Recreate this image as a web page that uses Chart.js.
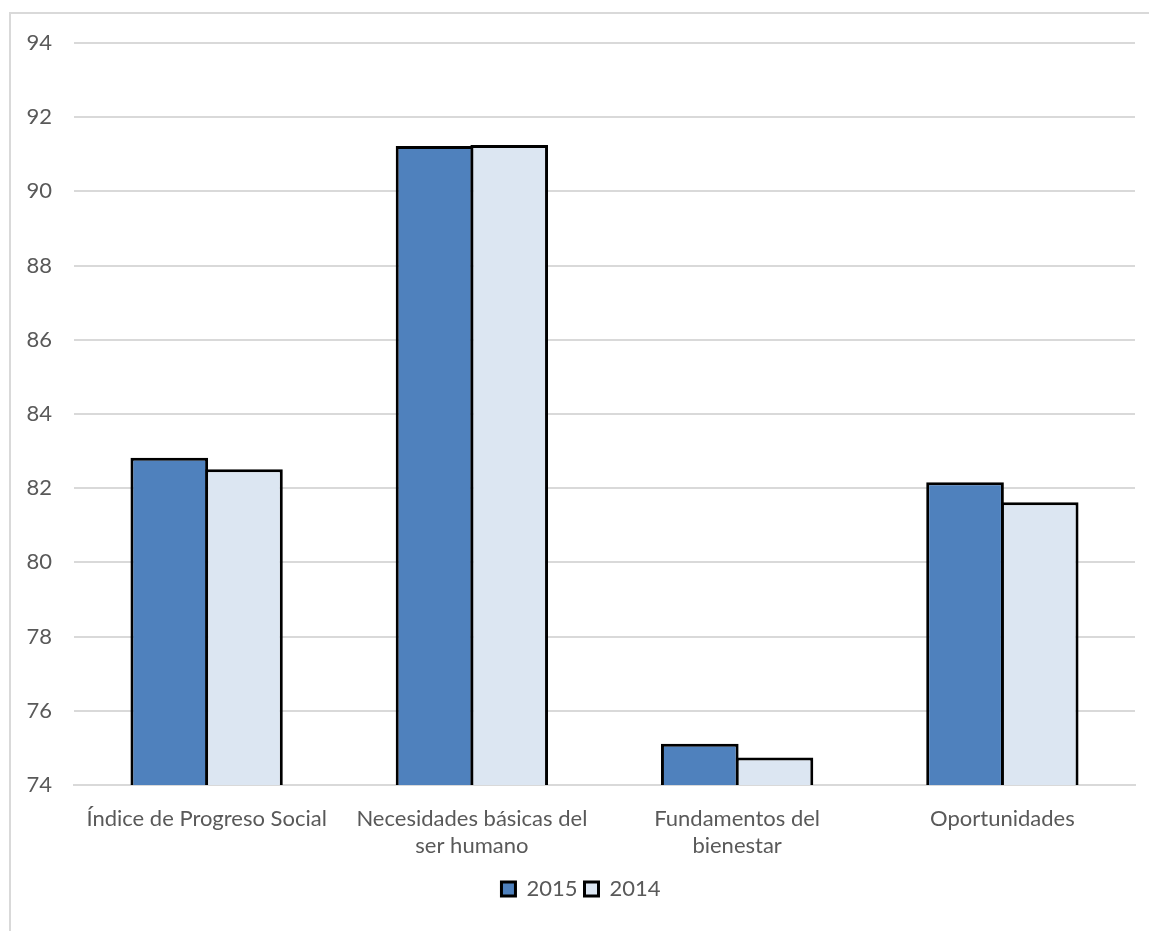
<!DOCTYPE html>
<html>
<head>
<meta charset="utf-8">
<script src="https://cdn.jsdelivr.net/npm/chart.js@4.4.0/dist/chart.umd.min.js"></script>
<style>
  html, body { margin: 0; padding: 0; background: #fff; overflow: hidden; }
  #marco {
    position: absolute; left: 9px; top: 12px; width: 1160px; height: 940px;
    border-left: 2px solid #d9d9d9; border-top: 2px solid #d9d9d9;
  }
  #caja { position: absolute; left: 0; top: 0; width: 1138px; height: 917px; }
</style>
</head>
<body>
<div id="marco"><div id="caja"><canvas id="myChart"></canvas></div></div>
<script>
// datos
var categorias = [
    'Índice de Progreso Social',
    ['Necesidades básicas del', 'ser humano'],
    ['Fundamentos del', 'bienestar'],
    'Oportunidades'
];
var valores2015 = [82.82, 91.22, 75.11, 82.16];
var valores2014 = [82.51, 91.25, 74.74, 81.62];
var marcasY = [74, 76, 78, 80, 82, 84, 86, 88, 90, 92, 94];

var fuente = "Lato, 'Open Sans', sans-serif";
var grisTexto = '#595959';

var ctx = document.getElementById('myChart');
var myChart = new Chart(ctx, {
    type: 'bar',
    data: {
        labels: categorias,
        datasets: [{
            label: '2015',
            data: valores2015,
            backgroundColor: '#4f81bd',
            borderColor: '#000000',
            borderWidth: 3,
            borderSkipped: false
        }, {
            label: '2014',
            data: valores2014,
            backgroundColor: '#dce6f2',
            borderColor: '#000000',
            borderWidth: 3,
            borderSkipped: false
        }]
    },
    options: {
        responsive: true,
        maintainAspectRatio: false,
        animation: false,
        layout: { padding: { left: 16, right: 14, top: 29, bottom: 21 } },
        datasets: { bar: { barPercentage: 1.04, categoryPercentage: 0.563 } },
        plugins: {
            tooltip: { enabled: false },
            legend: {
                position: 'bottom',
                labels: {
                    color: grisTexto,
                    font: { family: fuente, size: 22 },
                    boxWidth: 14,
                    boxHeight: 14,
                    padding: 7
                }
            }
        },
        scales: {
            x: {
                grid: { display: false },
                border: { display: true, color: '#d9d9d9', width: 2 },
                afterFit: function (eje) { eje.paddingLeft = 0; eje.paddingRight = 0; },
                ticks: {
                    color: grisTexto,
                    font: { family: fuente, size: 22, lineHeight: 1.23 },
                    maxRotation: 0,
                    autoSkip: false,
                    padding: 12
                }
            },
            y: {
                min: 74,
                max: 94,
                afterBuildTicks: function (eje) {
                    eje.ticks = marcasY.map(function (v) { return { value: v }; });
                },
                afterFit: function (eje) {
                    eje.width = 47;
                    eje.paddingTop = 0;
                    eje.paddingBottom = 0;
                },
                grid: { color: '#d9d9d9', lineWidth: 2, drawTicks: false },
                border: { display: false },
                ticks: {
                    color: grisTexto,
                    font: { family: fuente, size: 22 },
                    padding: 22
                }
            }
        }
    }
});
</script>
</body>
</html>
